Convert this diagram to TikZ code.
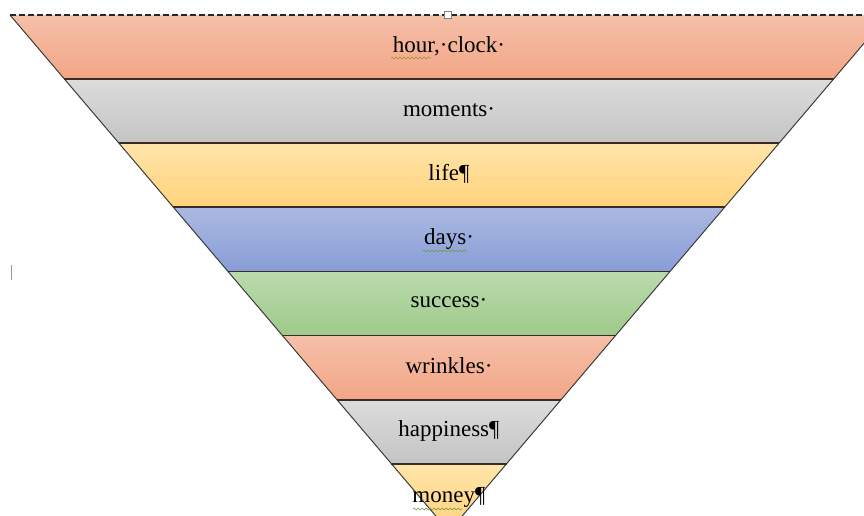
\documentclass[tikz,border=0pt]{standalone}
\usepackage{fontspec}
\setmainfont{Liberation Serif}
\usetikzlibrary{decorations.pathmorphing}
\definecolor{orT}{HTML}{F5C0A9}
\definecolor{orB}{HTML}{F3A586}
\definecolor{grT}{HTML}{DCDCDC}
\definecolor{grB}{HTML}{C4C4C4}
\definecolor{yeT}{HTML}{FFE4AA}
\definecolor{yeB}{HTML}{FFD37C}
\definecolor{blT}{HTML}{ABB9E2}
\definecolor{blB}{HTML}{889DD6}
\definecolor{gnT}{HTML}{BBDAAD}
\definecolor{gnB}{HTML}{9ECA8A}
\definecolor{sepline}{HTML}{3A2C24}
\definecolor{sideline}{HTML}{3C3C3C}
\definecolor{squig}{HTML}{6E9A3C}
\tikzset{
  label text/.style={font=\fontsize{23}{28}\selectfont, text=black, inner sep=0pt},
  sepstyle/.style={draw=sepline, line width=1.8pt},
  sidestyle/.style={draw=sideline, line width=1pt},
  squiggle/.style={draw=squig, line width=0.6pt, decorate, decoration={snake, amplitude=0.9pt, segment length=4pt}}
}
\begin{document}
\begin{tikzpicture}[x=1pt,y=-1pt]
\useasboundingbox (0,0) rectangle (864,515);
\begin{scope}
\clip (0,0) rectangle (864,515);
% bands
\foreach \i/\ct/\cb in {0/orT/orB,1/grT/grB,2/yeT/yeB,3/blT/blB,4/gnT/gnB,5/orT/orB,6/grT/grB} {
  \pgfmathsetmacro{\yt}{15+64.1*\i}
  \pgfmathsetmacro{\yb}{15+64.1*(\i+1)}
  \pgfmathsetmacro{\xlt}{10+0.85*(\yt-15)}
  \pgfmathsetmacro{\xrt}{888-0.85*(\yt-15)}
  \pgfmathsetmacro{\xlb}{10+0.85*(\yb-15)}
  \pgfmathsetmacro{\xrb}{888-0.85*(\yb-15)}
  \shade[top color=\ct, bottom color=\cb] (\xlt,\yt) -- (\xrt,\yt) -- (\xrb,\yb) -- (\xlb,\yb) -- cycle;
}
\pgfmathsetmacro{\ys}{15+64.1*7}
\pgfmathsetmacro{\xls}{10+0.85*(\ys-15)}
\pgfmathsetmacro{\xrs}{888-0.85*(\ys-15)}
\shade[top color=yeT, bottom color=yeB] (\xls,\ys) -- (\xrs,\ys) -- (449,531.5) -- cycle;
% sides
\coordinate (tl) at (10,15);
\coordinate (tr) at (888,15);
\coordinate (apex) at (449,531.5);
\draw[sidestyle] (tl) -- (apex) -- (tr);
% separators
\foreach \i in {1,...,7} {
  \pgfmathsetmacro{\yy}{15+64.1*\i}
  \pgfmathsetmacro{\xl}{10+0.85*(\yy-15)}
  \pgfmathsetmacro{\xr}{888-0.85*(\yy-15)}
  \draw[sepstyle] (\xl,\yy) -- (\xr,\yy);
}
% dashed selection line on top
\coordinate (dl) at (10,15);
\coordinate (dr) at (864,15);
\draw[black!85, line width=1.4pt, dash pattern=on 6pt off 3pt] (dl) -- (dr);
\draw[gray, fill=white, line width=0.6pt] (444,11) rectangle (451,18);
% small tick at the left
\draw[gray!80, line width=1pt] (11,265) -- (11,280);
\end{scope}
% labels
\node[label text] (t0) at (449,46) {hour,·clock·};
\node[label text] (t1) at (449,110) {moments·};
\node[label text] (t2) at (449,174) {life¶};
\node[label text] (t3) at (449,239) {days·};
\node[label text] (t4) at (449,302) {success·};
\node[label text] (t5) at (449,366) {wrinkles·};
\node[label text] (t6) at (449,431) {happiness¶};
\node[label text] (t7) at (449,497) {money¶};
% spell-check squiggles
\draw[squiggle, draw=squig!60!orange] (391,58) -- (431,58);
\draw[squiggle] (423,251) -- (467,251);
\draw[squiggle] (413,509) -- (462,509);
\end{tikzpicture}
\end{document}
